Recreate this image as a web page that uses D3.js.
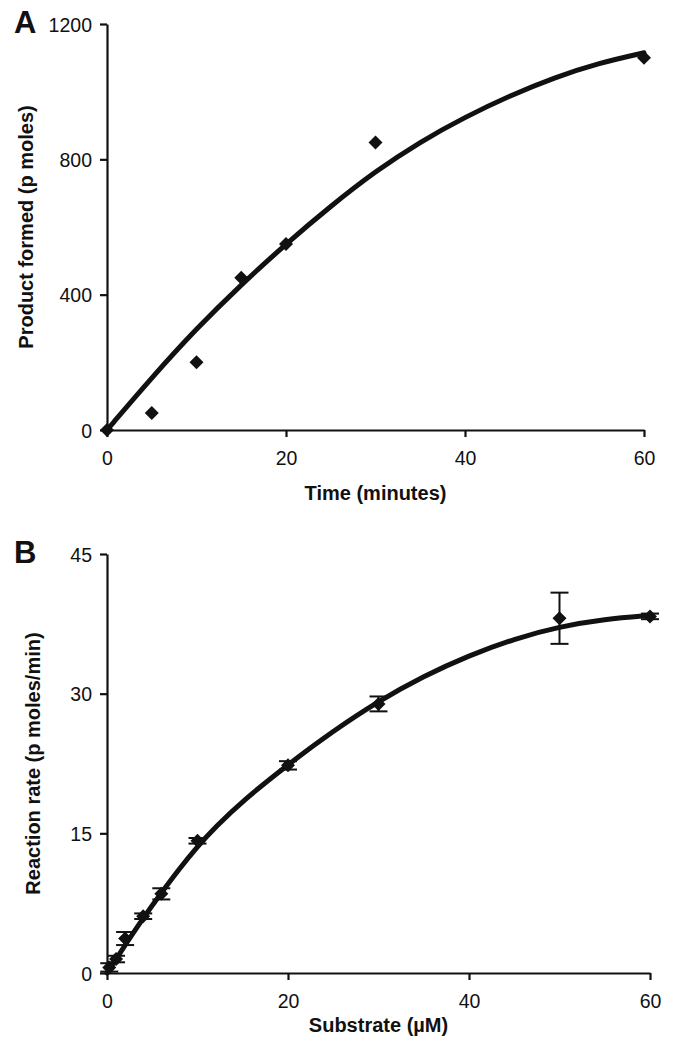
<!DOCTYPE html>
<html><head><meta charset="utf-8">
<script src="https://cdn.jsdelivr.net/npm/d3@7"></script>
<style>
html,body{margin:0;padding:0;background:#fff;}
text{font-family:"Liberation Sans",Arial,Helvetica,sans-serif;fill:#111;}
</style></head>
<body><svg id="c" width="678" height="1050"></svg>
<script>
// Panel A: time course
const timeMin = [0, 5, 10, 15, 20, 30, 60];
const productPmol = [0, 50, 200, 450, 550, 850, 1100];
const fitTimeX = [0, 5, 10, 15, 20, 25, 30, 35, 40, 45, 50, 55, 60];
const fitTimeY = [0, 155, 300, 430, 550, 662, 765, 852, 925, 988, 1042, 1085, 1115];
const timeTicks = [0, 20, 40, 60];
const productTicks = [0, 400, 800, 1200];

// Panel B: substrate dependence
const substrateUM = [0.25, 1, 2, 4, 6, 10, 20, 30, 50, 60];
const rate = [0.6, 1.5, 3.7, 6.1, 8.5, 14.2, 22.3, 28.9, 38.1, 38.3];
const rateErr = [0.45, 0.35, 0.7, 0.3, 0.6, 0.3, 0.45, 0.8, 2.75, 0.3];
const fitSubX = [0, 2, 4, 6, 8, 10, 12, 15, 20, 25, 30, 35, 40, 45, 50, 55, 60];
const fitSubY = [0, 3.0, 5.9, 8.6, 11.2, 13.6, 15.7, 18.5, 22.4, 26.0, 29.2, 31.9, 34.1, 35.9, 37.2, 38.0, 38.4];
const subTicks = [0, 20, 40, 60];
const rateTicks = [0, 15, 30, 45];

const svg = d3.select("#c");

function diamond(r){ return `M0,${-r}L${r},0L0,${r}L${-r},0Z`; }

function panel(cfg){
  const g = svg.append("g");
  const x = d3.scaleLinear().domain([0, 60]).range(cfg.xr);
  const y = d3.scaleLinear().domain(cfg.yd).range(cfg.yr);

  const xa = g.append("g").attr("transform", `translate(0,${cfg.yr[0]})`)
    .call(d3.axisBottom(x).tickValues(cfg.xt).tickSize(7).tickSizeOuter(0).tickFormat(d3.format("d")));
  const ya = g.append("g").attr("transform", `translate(${cfg.xr[0]},0)`)
    .call(d3.axisLeft(y).tickValues(cfg.yt).tickSize(7).tickSizeOuter(0).tickFormat(d3.format("d")));
  [xa, ya].forEach(a => {
    a.attr("font-size", null).attr("font-family", null);
    a.select(".domain").attr("stroke", "#111").attr("stroke-width", 2.2);
    a.selectAll(".tick line").attr("stroke", "#111").attr("stroke-width", 2.2);
    a.selectAll(".tick text").style("font-size", "19.5px").attr("fill", "#111")
      .style("font-family", '"Liberation Sans",Arial,sans-serif');
  });
  xa.selectAll(".tick text").attr("dy", null).attr("y", 35);
  ya.selectAll(".tick text").attr("dy", "0.36em").attr("x", -15);

  // fit curve
  const pts = cfg.fx.map((v, i) => [v, cfg.fy[i]]);
  g.append("path").datum(pts)
    .attr("d", d3.line().x(d => x(d[0])).y(d => y(d[1])).curve(d3.curveBasis))
    .attr("fill", "none").attr("stroke", "#111").attr("stroke-width", 5).attr("stroke-linecap", "round");

  // error bars
  if (cfg.err){
    const eg = g.append("g").attr("stroke", "#111").attr("stroke-width", 2);
    cfg.px.forEach((v, i) => {
      const e = cfg.err[i], cx = x(v);
      eg.append("line").attr("x1", cx).attr("x2", cx).attr("y1", y(cfg.py[i] - e)).attr("y2", y(cfg.py[i] + e));
      [cfg.py[i] - e, cfg.py[i] + e].forEach(yy => {
        eg.append("line").attr("x1", cx - 9).attr("x2", cx + 9).attr("y1", y(yy)).attr("y2", y(yy));
      });
    });
  }

  // markers
  g.append("g").selectAll("path").data(cfg.px.map((v, i) => [v, cfg.py[i]])).join("path")
    .attr("d", diamond(cfg.mr))
    .attr("transform", d => `translate(${x(d[0])},${y(d[1])})`)
    .attr("fill", "#111");

  // titles
  g.append("text").attr("x", (cfg.xr[0] + cfg.xr[1]) / 2).attr("y", cfg.xtY)
    .attr("text-anchor", "middle").attr("font-size", 20).attr("font-weight", "bold").text(cfg.xlabel);
  g.append("text").attr("transform", `translate(${cfg.ytX},${(cfg.yr[0] + cfg.yr[1]) / 2}) rotate(-90)`)
    .attr("text-anchor", "middle").attr("font-size", 20).attr("font-weight", "bold").text(cfg.ylabel);
  g.append("text").attr("x", 14).attr("y", cfg.lblY).attr("font-size", 31).attr("font-weight", "bold").text(cfg.lbl);
}

panel({xr: [107, 644], yr: [430, 24], yd: [0, 1200], xt: timeTicks, yt: productTicks,
  px: timeMin, py: productPmol, fx: fitTimeX, fy: fitTimeY, mr: 7,
  xlabel: "Time (minutes)", ylabel: "Product formed (p moles)", xtY: 500, ytX: 33, lbl: "A", lblY: 33});

panel({xr: [107, 650], yr: [973, 554], yd: [0, 45], xt: subTicks, yt: rateTicks,
  px: substrateUM, py: rate, err: rateErr, fx: fitSubX, fy: fitSubY, mr: 7,
  xlabel: "Substrate (\u00B5M)", ylabel: "Reaction rate (p moles/min)", xtY: 1032, ytX: 40, lbl: "B", lblY: 563});
</script></body></html>
